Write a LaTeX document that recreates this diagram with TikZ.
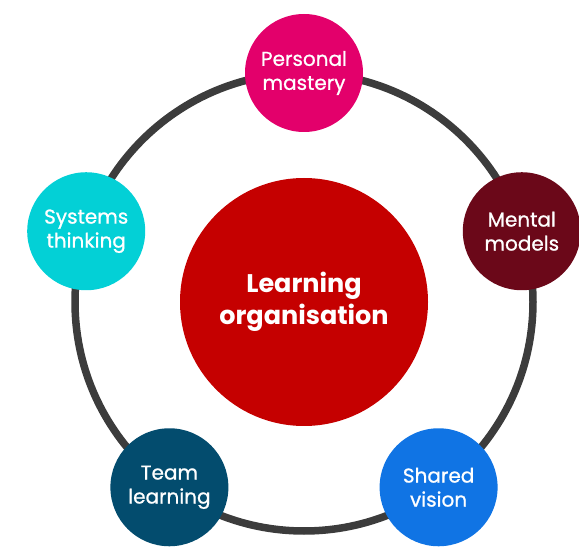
\documentclass[tikz,border=0pt]{standalone}
\usepackage{fontspec}
\setmainfont{Poppins}
\newfontfamily\satfont{Poppins}[FakeBold=0.9]
\definecolor{ringgray}{HTML}{3C3C3C}
\definecolor{corered}{HTML}{C50000}
\definecolor{pmcol}{HTML}{E3006B}
\definecolor{mmcol}{HTML}{6B0819}
\definecolor{svcol}{HTML}{1074E4}
\definecolor{tlcol}{HTML}{034C6E}
\definecolor{stcol}{HTML}{03D0D6}
\begin{document}
\begin{tikzpicture}[x=1pt,y=1pt,
  sat/.style={circle,fill=#1,minimum size=118pt,inner sep=0pt,text=white,
    align=center,font=\satfont\fontsize{20}{24}\selectfont},
  core/.style={circle,fill=corered,minimum size=248pt,inner sep=0pt,text=white,
    align=center,font=\fontsize{25.5}{32}\selectfont\bfseries}]
\useasboundingbox (0,0) rectangle (579,547);
\coordinate (c) at (304,245);
\draw[ringgray,line width=7.5pt] (c) circle (229);
\node[core] (lo) at (c) {Learning\\organisation};
\node[sat=pmcol] (pm) at ({304+229*cos(90)},{245+229*sin(90)}) {Personal\\mastery};
\node[sat=mmcol] (mm) at ({304+229*cos(18)},{245+229*sin(18)}) {Mental\\models};
\node[sat=svcol] (sv) at ({304+229*cos(-54)},{245+229*sin(-54)}) {Shared\\vision};
\node[sat=tlcol] (tl) at ({304+229*cos(234)},{245+229*sin(234)}) {Team\\learning};
\node[sat=stcol] (st) at ({304+229*cos(162)},{245+229*sin(162)}) {Systems\\thinking};
\end{tikzpicture}
\end{document}
